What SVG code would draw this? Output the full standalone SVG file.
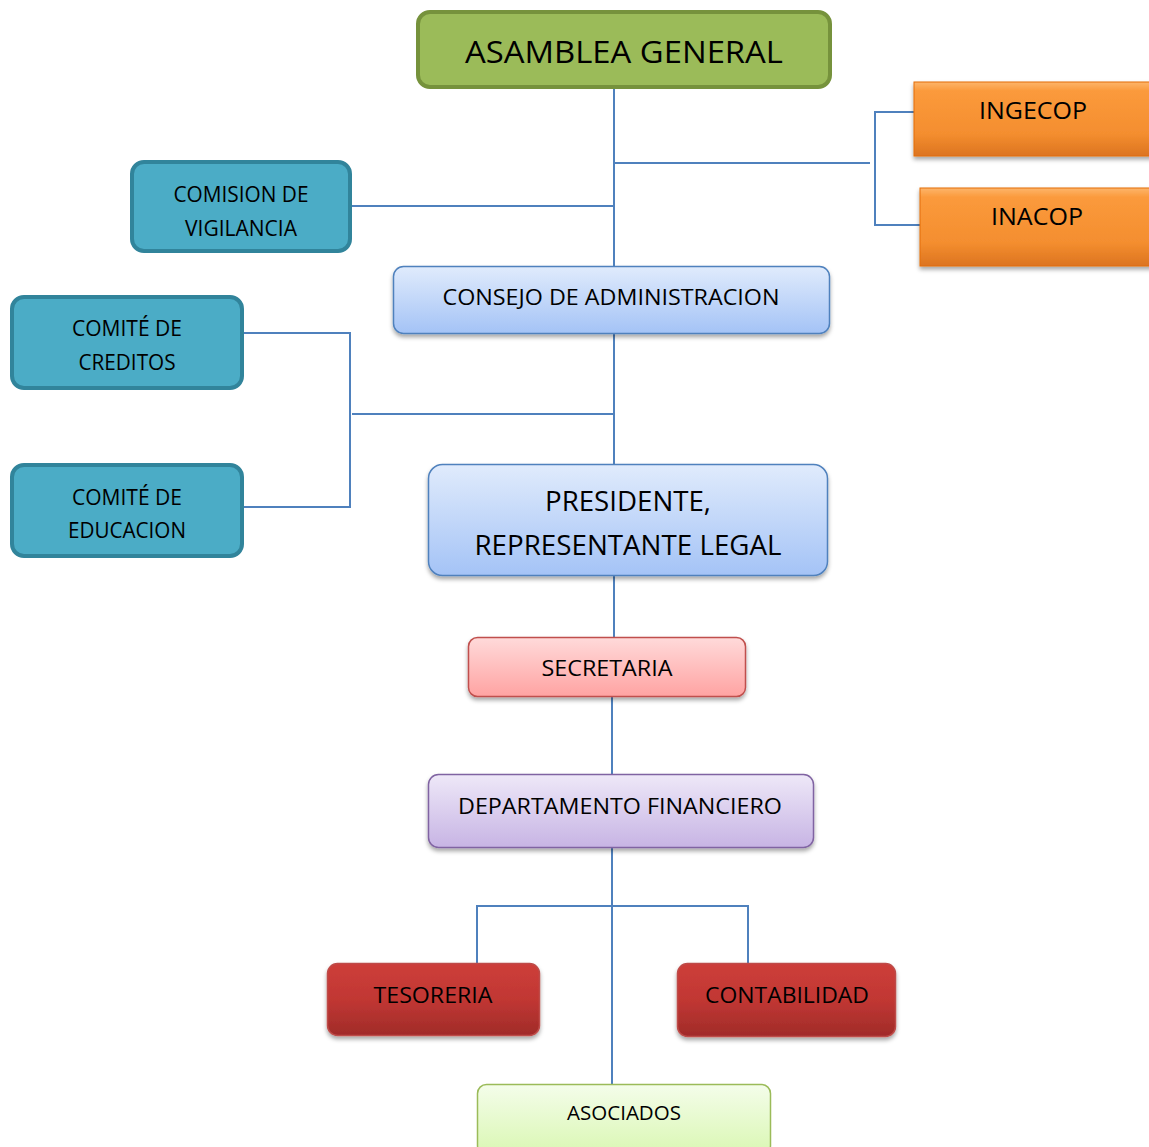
<svg xmlns="http://www.w3.org/2000/svg" width="1149" height="1147" viewBox="0 0 1149 1147">
<defs>
<style>
.t{font-family:"Open Sans","Noto Sans",sans-serif;fill:#000;text-anchor:middle}
.ln{stroke:#4F81BD;stroke-width:2;fill:none}
</style>
<filter id="sh" x="-10%" y="-20%" width="120%" height="150%">
<feDropShadow dx="0" dy="3" stdDeviation="2" flood-color="#000" flood-opacity="0.35"/>
</filter>
<linearGradient id="gBlue" x1="0" y1="0" x2="0" y2="1"><stop offset="0" stop-color="#E0EBFC"/><stop offset="1" stop-color="#A4C3F6"/></linearGradient>
<linearGradient id="gPink" x1="0" y1="0" x2="0" y2="1"><stop offset="0" stop-color="#FFDADA"/><stop offset="1" stop-color="#FFA3A2"/></linearGradient>
<linearGradient id="gPurple" x1="0" y1="0" x2="0" y2="1"><stop offset="0" stop-color="#EEE8F8"/><stop offset="1" stop-color="#C7B4E4"/></linearGradient>
<linearGradient id="gRed" x1="0" y1="0" x2="0" y2="1"><stop offset="0" stop-color="#CD3E3A"/><stop offset="0.5" stop-color="#C13733"/><stop offset="1" stop-color="#A02B29"/></linearGradient>
<linearGradient id="gGreen" x1="0" y1="0" x2="0" y2="1"><stop offset="0" stop-color="#F4FDEA"/><stop offset="1" stop-color="#DAF7B3"/></linearGradient>
<linearGradient id="gOrange" x1="0" y1="0" x2="0" y2="1"><stop offset="0" stop-color="#FDB56A"/><stop offset="0.12" stop-color="#FB9A3C"/><stop offset="0.7" stop-color="#F48E2F"/><stop offset="1" stop-color="#DC7420"/></linearGradient>
</defs>

<g id="connectors">
<path class="ln" d="M614 88V266"/>
<path class="ln" d="M614 163H870"/>
<path class="ln" d="M914 112H875V225H920"/>
<path class="ln" d="M351 206H614"/>
<path class="ln" d="M614 334V464"/>
<path class="ln" d="M352 414H615"/>
<path class="ln" d="M243 333H350V507H243"/>
<path class="ln" d="M614 576V637"/>
<path class="ln" d="M612 697V774"/>
<path class="ln" d="M612 848V1084"/>
<path class="ln" d="M477 963V906H748V963"/>
</g>

<g id="asamblea">
<rect x="418" y="12" width="412" height="75" rx="12" fill="#9BBB59" stroke="#76923C" stroke-width="4"/>
<text class="t" x="624" y="62.5" font-size="31" textLength="318" lengthAdjust="spacingAndGlyphs">ASAMBLEA GENERAL</text>
</g>

<g id="ingecop">
<rect x="914" y="82" width="245" height="74" fill="url(#gOrange)" stroke="#E36C0A" stroke-width="1" filter="url(#sh)"/>
<text class="t" x="1033" y="118.5" font-size="23" textLength="108" lengthAdjust="spacingAndGlyphs">INGECOP</text>
</g>

<g id="inacop">
<rect x="920" y="188" width="239" height="78" fill="url(#gOrange)" stroke="#E36C0A" stroke-width="1" filter="url(#sh)"/>
<text class="t" x="1037" y="224.5" font-size="23" textLength="92" lengthAdjust="spacingAndGlyphs">INACOP</text>
</g>

<g id="comision">
<rect x="132" y="162" width="218" height="89" rx="12" fill="#4BACC6" stroke="#31849B" stroke-width="4"/>
<text class="t" x="241" y="201.5" font-size="21" textLength="135" lengthAdjust="spacingAndGlyphs">COMISION DE</text>
<text class="t" x="241" y="235.5" font-size="21" textLength="112" lengthAdjust="spacingAndGlyphs">VIGILANCIA</text>
</g>

<g id="consejo">
<rect x="393.5" y="266.5" width="436" height="67" rx="10" fill="url(#gBlue)" stroke="#4F81BD" stroke-width="1.5" filter="url(#sh)"/>
<text class="t" x="611" y="305" font-size="22" textLength="337" lengthAdjust="spacingAndGlyphs">CONSEJO DE ADMINISTRACION</text>
</g>

<g id="creditos">
<rect x="12" y="297" width="230" height="91" rx="12" fill="#4BACC6" stroke="#31849B" stroke-width="4"/>
<text class="t" x="127" y="336" font-size="21" textLength="110" lengthAdjust="spacingAndGlyphs">COMITÉ DE</text>
<text class="t" x="127" y="369.5" font-size="21" textLength="97" lengthAdjust="spacingAndGlyphs">CREDITOS</text>
</g>

<g id="educacion">
<rect x="12" y="465" width="230" height="91" rx="12" fill="#4BACC6" stroke="#31849B" stroke-width="4"/>
<text class="t" x="127" y="505" font-size="21" textLength="110" lengthAdjust="spacingAndGlyphs">COMITÉ DE</text>
<text class="t" x="127" y="538" font-size="21" textLength="118" lengthAdjust="spacingAndGlyphs">EDUCACION</text>
</g>

<g id="presidente">
<rect x="428.5" y="464.5" width="399" height="111" rx="14" fill="url(#gBlue)" stroke="#4F81BD" stroke-width="1.5" filter="url(#sh)"/>
<text class="t" x="628" y="510.5" font-size="27" textLength="166" lengthAdjust="spacingAndGlyphs">PRESIDENTE,</text>
<text class="t" x="628" y="554.5" font-size="27" textLength="307" lengthAdjust="spacingAndGlyphs">REPRESENTANTE LEGAL</text>
</g>

<g id="secretaria">
<rect x="468.5" y="637.5" width="277" height="59" rx="9" fill="url(#gPink)" stroke="#C0504D" stroke-width="1.5" filter="url(#sh)"/>
<text class="t" x="607" y="676" font-size="22" textLength="131" lengthAdjust="spacingAndGlyphs">SECRETARIA</text>
</g>

<g id="departamento">
<rect x="428.5" y="774.5" width="385" height="73" rx="10" fill="url(#gPurple)" stroke="#8064A2" stroke-width="1.5" filter="url(#sh)"/>
<text class="t" x="620" y="814" font-size="22" textLength="324" lengthAdjust="spacingAndGlyphs">DEPARTAMENTO FINANCIERO</text>
</g>

<g id="tesoreria">
<rect x="327.5" y="963.5" width="212" height="72" rx="10" fill="url(#gRed)" stroke="#BE4B48" stroke-width="1.5" filter="url(#sh)"/>
<text class="t" x="433" y="1003" font-size="22" textLength="119" lengthAdjust="spacingAndGlyphs">TESORERIA</text>
</g>

<g id="contabilidad">
<rect x="677.5" y="963.5" width="218" height="73" rx="10" fill="url(#gRed)" stroke="#BE4B48" stroke-width="1.5" filter="url(#sh)"/>
<text class="t" x="787" y="1003" font-size="22" textLength="164" lengthAdjust="spacingAndGlyphs">CONTABILIDAD</text>
</g>

<g id="asociados">
<rect x="477.5" y="1084.5" width="293" height="70" rx="9" fill="url(#gGreen)" stroke="#9BBB59" stroke-width="1.5"/>
<text class="t" x="624" y="1120" font-size="20" textLength="114" lengthAdjust="spacingAndGlyphs">ASOCIADOS</text>
</g>
</svg>
